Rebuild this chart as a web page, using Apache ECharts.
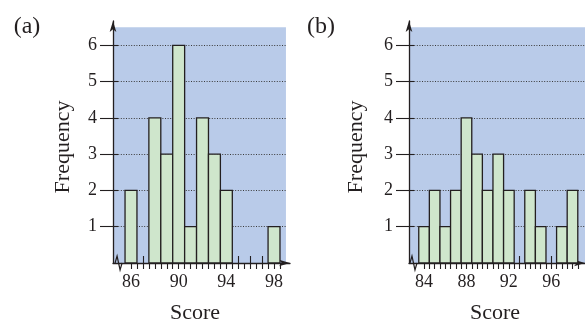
<!DOCTYPE html>
<html>
<head>
<meta charset="utf-8">
<script src="https://cdn.jsdelivr.net/npm/echarts@6/dist/echarts.min.js"></script>
<style>
  html, body { margin: 0; padding: 0; background: #fff; }
  #main { width: 585px; height: 326px; }
</style>
</head>
<body>
<div id="main"></div>
<script>
var scoresA = [86, 87, 88, 89, 90, 91, 92, 93, 94, 95, 96, 97, 98];
var freqA   = [2, 0, 4, 3, 6, 1, 4, 3, 2, 0, 0, 0, 1];
var scoresB = [84, 85, 86, 87, 88, 89, 90, 91, 92, 93, 94, 95, 96, 97, 98];
var freqB   = [1, 2, 1, 2, 4, 3, 2, 3, 2, 0, 2, 1, 0, 1, 2];
var labelsA = [86, 90, 94, 98];
var labelsB = [84, 88, 92, 96];
var freqTicks = [1, 2, 3, 4, 5, 6];

var ink = '#231f20';
var blue = '#b9cbe9';
var green = '#cfe6cc';
var font = '"Liberation Serif", "DejaVu Serif", serif';

var chart = echarts.init(document.getElementById('main'));

function pairs(xs, ys) {
  var out = [];
  for (var i = 0; i < xs.length; i++) {
    out.push([xs[i], ys[i]]);
  }
  return out;
}

function halfSteps(from, to) {
  var out = [];
  for (var v = from; v <= to; v += 0.5) out.push(v);
  return out;
}

function renderBar(params, api) {
  var x = api.value(0), y = api.value(1);
  if (!y) return null;
  var p0 = api.coord([x - 0.5, y]);
  var p1 = api.coord([x + 0.5, 0]);
  return {
    type: 'rect',
    shape: { x: p0[0], y: p0[1], width: p1[0] - p0[0], height: p1[1] - p0[1] },
    style: { fill: green, stroke: ink, lineWidth: 1.3 }
  };
}

// little zigzag break on the score axis
function renderBreak(params, api) {
  var p = api.coord([api.value(0), 0]);
  return {
    type: 'polyline',
    shape: { points: [[p[0] - 4, p[1]], [p[0] - 2, p[1] - 7], [p[0] + 1, p[1] + 7], [p[0] + 3, p[1]]] },
    style: { fill: null, stroke: ink, lineWidth: 1.2 }
  };
}

function xMain(grid, min, max, labels, ticks) {
  return {
    type: 'value', gridIndex: grid, min: min, max: max, z: 1,
    axisLine: { show: true, lineStyle: { color: ink, width: 1.3 }, symbol: ['none', 'arrow'], symbolSize: [5, 11] },
    axisTick: { show: true, inside: false, length: 6, lineStyle: { color: ink, width: 1.1 }, customValues: ticks },
    axisLabel: { show: true, margin: 10, fontFamily: font, fontSize: 18, color: ink, customValues: labels },
    splitLine: { show: false }
  };
}
function xInner(grid, min, max, ticks) {
  return {
    type: 'value', gridIndex: grid, min: min, max: max, position: 'bottom', z: 1,
    axisLine: { show: false },
    axisTick: { show: true, inside: true, length: 7, lineStyle: { color: ink, width: 1.1 }, customValues: ticks },
    axisLabel: { show: false },
    splitLine: { show: false }
  };
}
function yMain(grid, max) {
  return {
    type: 'value', gridIndex: grid, min: 0, max: max, z: 1,
    axisLine: { show: true, lineStyle: { color: ink, width: 1.3 }, symbol: ['none', 'arrow'], symbolSize: [5, 11] },
    axisTick: { show: true, inside: false, length: 13, lineStyle: { color: ink, width: 1.1 }, customValues: freqTicks },
    axisLabel: { show: true, margin: 16, fontFamily: font, fontSize: 18, color: ink, customValues: freqTicks },
    splitLine: { show: false }
  };
}
function yInner(grid, max) {
  return {
    type: 'value', gridIndex: grid, min: 0, max: max, position: 'left', z: 1,
    axisLine: { show: false },
    axisTick: { show: true, inside: true, length: 5, lineStyle: { color: ink, width: 1.1 }, customValues: freqTicks },
    axisLabel: { show: false },
    splitLine: { show: false }
  };
}

function panelBack(xi, yi, xmin, xEnd) {
  var lines = [];
  for (var i = 0; i < freqTicks.length; i++) {
    lines.push([{ coord: [xmin, freqTicks[i]] }, { coord: [xEnd, freqTicks[i]] }]);
  }
  return {
    type: 'line', xAxisIndex: xi, yAxisIndex: yi, data: [], silent: true, z: 0,
    markArea: {
      silent: true, z: 0,
      itemStyle: { color: blue },
      data: [[{ coord: [xmin, 0] }, { coord: [xEnd, 6.5] }]]
    },
    markLine: {
      silent: true, z: 1, symbol: 'none', animation: false,
      label: { show: false },
      lineStyle: { color: '#3a3a3a', width: 1, type: [1, 1.6] },
      data: lines
    }
  };
}

var minA = 84.49, maxA = 99.34, edgeA = 99.0;
var minB = 82.58, maxB = 99.18, edgeB = 99.18;
var maxY = 6.67;

var option = {
  animation: false,
  backgroundColor: '#ffffff',
  grid: [
    { left: 113, top: 21, width: 177, height: 242 },
    { left: 409, top: 21, width: 176, height: 242 }
  ],
  xAxis: [
    xMain(0, minA, maxA, labelsA, halfSteps(86, 98.5)),
    xInner(0, minA, maxA, scoresA),
    xMain(1, minB, maxB, labelsB, halfSteps(84, 98.5)),
    xInner(1, minB, maxB, scoresB)
  ],
  yAxis: [yMain(0, maxY), yInner(0, maxY), yMain(1, maxY), yInner(1, maxY)],
  series: [
    panelBack(0, 0, minA, edgeA),
    panelBack(2, 2, minB, edgeB),
    { type: 'custom', xAxisIndex: 0, yAxisIndex: 0, z: 2, renderItem: renderBar, data: pairs(scoresA, freqA) },
    { type: 'custom', xAxisIndex: 2, yAxisIndex: 2, z: 2, renderItem: renderBar, data: pairs(scoresB, freqB) },
    { type: 'custom', xAxisIndex: 0, yAxisIndex: 0, z: 3, renderItem: renderBreak, data: [[85.0, 0]] },
    { type: 'custom', xAxisIndex: 2, yAxisIndex: 2, z: 3, renderItem: renderBreak, data: [[83.05, 0]] }
  ],
  graphic: [
    { type: 'text', x: 27, y: 27, style: { text: '(a)', font: '24px ' + font, fill: ink, textAlign: 'center', textVerticalAlign: 'middle' } },
    { type: 'text', x: 321, y: 27, style: { text: '(b)', font: '24px ' + font, fill: ink, textAlign: 'center', textVerticalAlign: 'middle' } },
    { type: 'text', x: 63, y: 147, rotation: Math.PI / 2, style: { text: 'Frequency', font: '22px ' + font, fill: ink, textAlign: 'center', textVerticalAlign: 'middle' } },
    { type: 'text', x: 356, y: 147, rotation: Math.PI / 2, style: { text: 'Frequency', font: '22px ' + font, fill: ink, textAlign: 'center', textVerticalAlign: 'middle' } },
    { type: 'text', x: 195, y: 313, style: { text: 'Score', font: '22px ' + font, fill: ink, textAlign: 'center', textVerticalAlign: 'middle' } },
    { type: 'text', x: 495, y: 313, style: { text: 'Score', font: '22px ' + font, fill: ink, textAlign: 'center', textVerticalAlign: 'middle' } }
  ]
};

chart.setOption(option);
window.addEventListener('resize', function () {
  chart.resize();
});
</script>
</body>
</html>
